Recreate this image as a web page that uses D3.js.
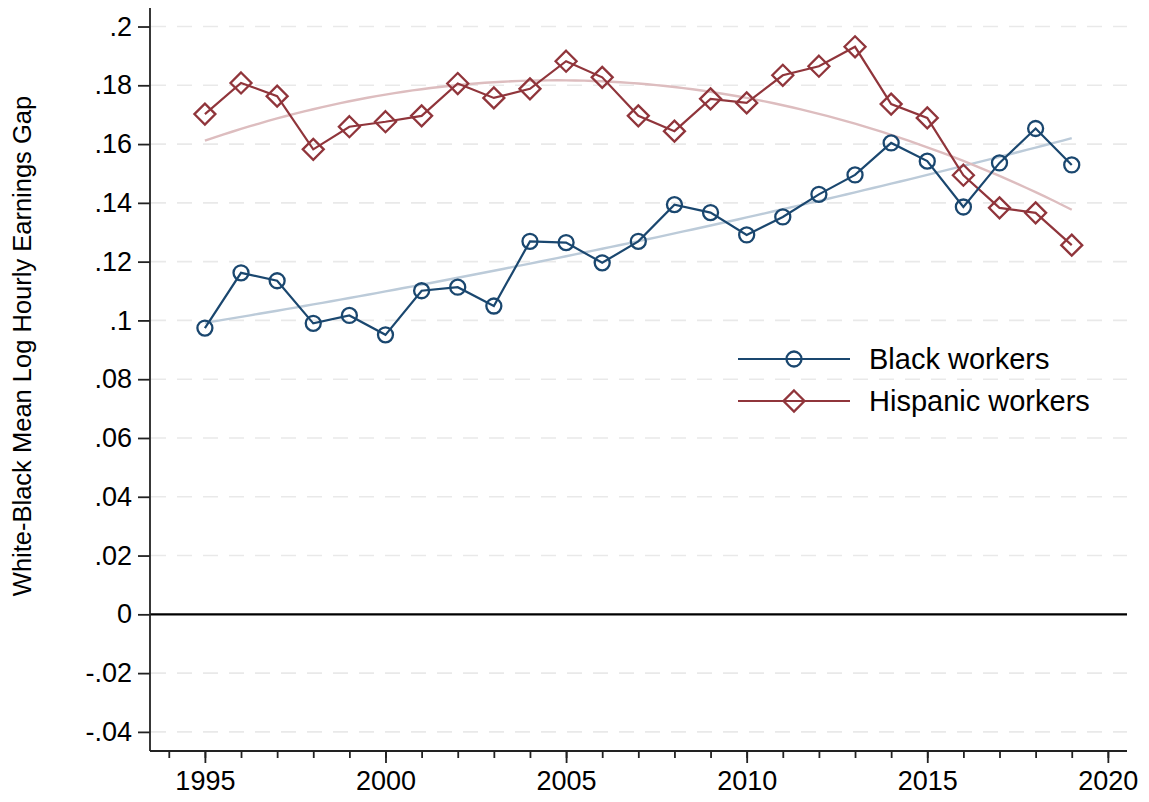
<!DOCTYPE html>
<html>
<head>
<meta charset="utf-8">
<script src="https://cdn.jsdelivr.net/npm/d3@7"></script>
<style>
  body { margin: 0; background: #fff; }
  text { font-family: Arial, "Liberation Sans", sans-serif; fill: #000; }
</style>
</head>
<body>
<script>
// data
var years = [1995, 1996, 1997, 1998, 1999, 2000, 2001, 2002, 2003, 2004, 2005, 2006,
             2007, 2008, 2009, 2010, 2011, 2012, 2013, 2014, 2015, 2016, 2017, 2018, 2019];
var black = [0.0974, 0.1162, 0.1135, 0.0990, 0.1017, 0.0951, 0.1101, 0.1113, 0.1049, 0.1269,
             0.1265, 0.1196, 0.1269, 0.1394, 0.1367, 0.1291, 0.1352, 0.1429, 0.1495, 0.1604,
             0.1542, 0.1386, 0.1536, 0.1653, 0.1529];
var hispanic = [0.1702, 0.1808, 0.1763, 0.1582, 0.1659, 0.1676, 0.1696, 0.1806, 0.1757, 0.1788,
                0.1882, 0.1827, 0.1696, 0.1644, 0.1754, 0.1740, 0.1834, 0.1865, 0.1931, 0.1736,
                0.1689, 0.1494, 0.1383, 0.1366, 0.1256];
var yTicks = [-0.04, -0.02, 0, 0.02, 0.04, 0.06, 0.08, 0.1, 0.12, 0.14, 0.16, 0.18, 0.2];
var xTicks = [1995, 2000, 2005, 2010, 2015, 2020];
var seriesNames = ["Black workers", "Hispanic workers"];

var width = 1149, height = 802;
var blue = "#1a476f", red = "#90353b";

var svg = d3.select("body").append("svg")
  .attr("width", width)
  .attr("height", height);

var x = d3.scaleLinear().domain([1993.48, 2020.53]).range([150, 1127]);
var y = d3.scaleLinear().domain([-0.0465, 0.2063]).range([751, 8]);

// quadratic least squares fit (like stata qfit)
function qfit(xs, ys) {
  var mx = d3.mean(xs);
  var s = [0, 0, 0, 0, 0], t = [0, 0, 0];
  xs.forEach(function (xv, i) {
    var u = xv - mx;
    for (var k = 0; k < 5; k++) s[k] += Math.pow(u, k);
    for (var k2 = 0; k2 < 3; k2++) t[k2] += ys[i] * Math.pow(u, k2);
  });
  var A = [[s[0], s[1], s[2], t[0]], [s[1], s[2], s[3], t[1]], [s[2], s[3], s[4], t[2]]];
  for (var i = 0; i < 3; i++) {
    for (var j = i + 1; j < 3; j++) {
      var f = A[j][i] / A[i][i];
      for (var k3 = i; k3 < 4; k3++) A[j][k3] -= f * A[i][k3];
    }
  }
  var c = [0, 0, 0];
  for (var i2 = 2; i2 >= 0; i2--) {
    var v = A[i2][3];
    for (var j2 = i2 + 1; j2 < 3; j2++) v -= A[i2][j2] * c[j2];
    c[i2] = v / A[i2][i2];
  }
  return function (xv) { var u = xv - mx; return c[0] + c[1] * u + c[2] * u * u; };
}

// stata style labels: .18, -.02
function fmtY(d) {
  if (d === 0) return "0";
  var s = String(+Math.abs(d).toFixed(2)).replace(/^0/, "");
  return (d < 0 ? "-" : "") + s;
}

// gridlines
svg.append("g").selectAll("line")
  .data(yTicks.filter(d => d !== 0))
  .enter().append("line")
  .attr("x1", 151).attr("x2", 1127)
  .attr("y1", d => y(d)).attr("y2", d => y(d))
  .style("stroke", "#e9e9e9")
  .style("stroke-width", 1.6)
  .style("stroke-dasharray", "15,11");

// zero line
svg.append("line")
  .attr("x1", 150).attr("x2", 1127)
  .attr("y1", y(0)).attr("y2", y(0))
  .style("stroke", "#000")
  .style("stroke-width", 2.2);

// y axis
var yAxis = d3.axisLeft(y)
  .tickValues(yTicks)
  .tickSize(12)
  .tickPadding(6)
  .tickFormat(fmtY);
var gy = svg.append("g").attr("transform", "translate(150,0)").call(yAxis);
gy.select(".domain").attr("d", "M0," + y.range()[1] + "V" + y.range()[0]);

// x axis (major + yearly minor ticks)
var gx = svg.append("g").attr("transform", "translate(0,751)");
gx.call(d3.axisBottom(x).tickValues(d3.range(1994, 2021)).tickSize(7).tickFormat(""));
gx.select(".domain").attr("d", "M" + x.range()[0] + ",0H" + x.range()[1]);
var gx2 = svg.append("g").attr("transform", "translate(0,751)");
gx2.call(d3.axisBottom(x).tickValues(xTicks).tickSize(12).tickPadding(8).tickFormat(d3.format("d")));
gx2.select(".domain").remove();

svg.selectAll(".domain, .tick line")
  .style("stroke", "#222")
  .style("stroke-width", 1.8);
svg.selectAll(".tick text").style("font-size", "27px").style("font-family", "Arial, 'Liberation Sans', sans-serif");

// y title
svg.append("text")
  .attr("transform", "translate(31,346) rotate(-90)")
  .attr("text-anchor", "middle")
  .style("font-size", "25.5px")
  .text("White-Black Mean Log Hourly Earnings Gap");

// fitted curves
var fitLine = d3.line().x(d => x(d[0])).y(d => y(d[1]));
var fineYears = d3.range(1995, 2019.001, 0.25);
var fitB = qfit(years, black), fitH = qfit(years, hispanic);

svg.append("path")
  .datum(fineYears.map(t => [t, fitB(t)]))
  .attr("d", fitLine)
  .style("fill", "none")
  .style("stroke", "#bccbd9")
  .style("stroke-width", 2.4);
svg.append("path")
  .datum(fineYears.map(t => [t, fitH(t)]))
  .attr("d", fitLine)
  .style("fill", "none")
  .style("stroke", "#ddbdbf")
  .style("stroke-width", 2.4);

// data series
var line = d3.line().x(d => x(d[0])).y(d => y(d[1]));
var blackPts = years.map((t, i) => [t, black[i]]);
var hispPts = years.map((t, i) => [t, hispanic[i]]);

function diamond(cx, cy, r) {
  return "M" + cx + "," + (cy - r) + "L" + (cx + r) + "," + cy + "L" + cx + "," + (cy + r) + "L" + (cx - r) + "," + cy + "Z";
}

svg.append("path").datum(hispPts).attr("d", line)
  .style("fill", "none").style("stroke", red).style("stroke-width", 2.2);
svg.append("g").selectAll("path")
  .data(hispPts).enter().append("path")
  .attr("d", d => diamond(x(d[0]), y(d[1]), 10.5))
  .style("fill", "none").style("stroke", red).style("stroke-width", 2.3);

svg.append("path").datum(blackPts).attr("d", line)
  .style("fill", "none").style("stroke", blue).style("stroke-width", 2.2);
svg.append("g").selectAll("circle")
  .data(blackPts).enter().append("circle")
  .attr("cx", d => x(d[0])).attr("cy", d => y(d[1]))
  .attr("r", 7.5)
  .style("fill", "none").style("stroke", blue).style("stroke-width", 2.3);

// legend
var legend = svg.append("g");
var rows = [{ name: seriesNames[0], color: blue, y: 359 }, { name: seriesNames[1], color: red, y: 401 }];
rows.forEach(function (r, i) {
  legend.append("line")
    .attr("x1", 738).attr("x2", 850)
    .attr("y1", r.y).attr("y2", r.y)
    .style("stroke", r.color).style("stroke-width", 2.2);
  if (i === 0) {
    legend.append("circle").attr("cx", 794).attr("cy", r.y).attr("r", 7.5)
      .style("fill", "none").style("stroke", r.color).style("stroke-width", 2.3);
  } else {
    legend.append("path").attr("d", diamond(794, r.y, 10.5))
      .style("fill", "none").style("stroke", r.color).style("stroke-width", 2.3);
  }
  legend.append("text")
    .attr("x", 869).attr("y", r.y + 10)
    .style("font-size", "29px")
    .text(r.name);
});
</script>
</body>
</html>
